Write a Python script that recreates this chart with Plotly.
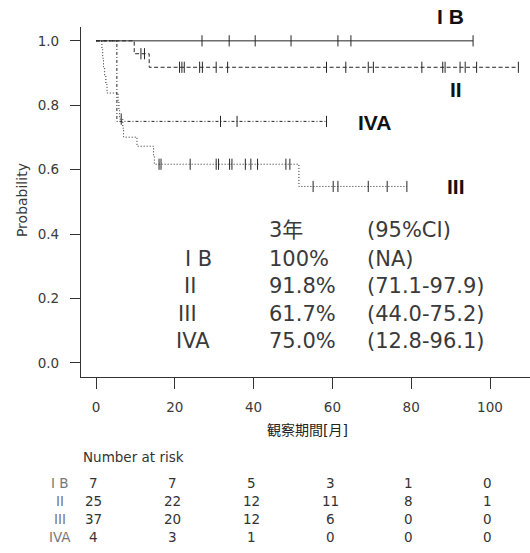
import plotly.graph_objects as go

# ---- Kaplan-Meier data by stage (months, survival probability) ----
ib_event_t = []
ib_event_s = []
ib_censor = [26.9, 33.8, 40.4, 49.5, 61.4, 64.7, 95.7]

ii_event_t = [9.7, 13.5]
ii_event_s = [0.960, 0.918]
ii_censor = [11.4, 12.3, 21.2, 21.8, 22.4, 26.3, 27.0, 30.5, 33.4,
             58.5, 63.4, 69.1, 70.4, 82.7, 88.0, 88.6, 92.4, 93.7, 96.6, 107.2]

iii_event_t = [1.5, 1.7, 1.9, 2.2, 2.5, 2.8, 5.6, 5.8, 6.0, 6.8, 7.0,
               10.4, 14.6, 14.8, 51.5]
iii_event_s = [0.973, 0.946, 0.919, 0.892, 0.865, 0.838, 0.811, 0.784, 0.757,
               0.729, 0.701, 0.673, 0.645, 0.617, 0.548]
iii_censor = [6.4, 16.0, 16.5, 23.9, 30.5, 31.1, 33.9, 34.5, 37.9, 39.3, 41.0,
              48.2, 49.2, 55.1, 60.2, 61.4, 69.1, 73.9, 78.9]

iva_event_t = [5.3]
iva_event_s = [0.750]
iva_censor = [31.6, 35.8, 58.5]

# ---- 3-year survival summary ----
table_names = ["I B", "II", "III", "IVA"]
surv_3y = ["100%", "91.8%", "61.7%", "75.0%"]
ci_3y = ["(NA)", "(71.1-97.9)", "(44.0-75.2)", "(12.8-96.1)"]

# ---- number at risk ----
risk_times = [0, 20, 40, 60, 80, 100]
risk_ib = [7, 7, 5, 3, 1, 0]
risk_ii = [25, 22, 12, 11, 8, 1]
risk_iii = [37, 20, 12, 6, 0, 0]
risk_iva = [4, 3, 1, 0, 0, 0]
risk_labels = ["I B", "II", "III", "IVA"]

x_ticks = [0, 20, 40, 60, 80, 100]
y_ticks = [0.0, 0.2, 0.4, 0.6, 0.8, 1.0]

INK = "#262626"
TXT = "#3a3a3a"


def km_curve(ev_t, ev_s, cens):
    end = max(list(ev_t) + list(cens))
    xs = [0.0] + list(ev_t) + [end]
    ys = [1.0] + list(ev_s) + [ev_s[-1] if ev_s else 1.0]
    return xs, ys


def level_at(t, ev_t, ev_s):
    s = 1.0
    for et, es in zip(ev_t, ev_s):
        if et <= t:
            s = es
    return s


groups = [
    (ib_event_t, ib_event_s, ib_censor, "solid"),
    (ii_event_t, ii_event_s, ii_censor, "4px,2.5px"),
    (iii_event_t, iii_event_s, iii_censor, "1px,2px"),
    (iva_event_t, iva_event_s, iva_censor, "3px,2px,1px,2px"),
]

fig = go.Figure()
for ev_t, ev_s, cens, dash in groups:
    xs, ys = km_curve(ev_t, ev_s, cens)
    fig.add_trace(go.Scatter(x=xs, y=ys, mode="lines", line_shape="hv",
                             line=dict(color=INK, width=1, dash=dash),
                             hoverinfo="skip", showlegend=False))
    fig.add_trace(go.Scatter(x=cens, y=[level_at(c, ev_t, ev_s) for c in cens],
                             mode="markers",
                             marker=dict(symbol="line-ns-open", size=8, color=INK,
                                         line=dict(color=INK, width=1)),
                             hoverinfo="skip", showlegend=False))

ann = []
# curve labels
bold = dict(family="Liberation Sans, Arial", size=21, color="#111")
ann.append(dict(text="<b>I B</b>", x=0.824, y=1.031, xref="paper", yref="paper",
                showarrow=False, font=bold, xanchor="center", yanchor="middle"))
for txt, x, y in [("II", 91.4, 0.848), ("IVA", 70.8, 0.748), ("III", 91.4, 0.547)]:
    ann.append(dict(text=f"<b>{txt}</b>", x=x, y=y, xref="x", yref="y",
                    showarrow=False, font=bold, xanchor="center", yanchor="middle"))

# 3-year summary table inside the plot
tf = dict(family="DejaVu Sans, Noto Sans CJK JP", size=21, color=TXT)
row_y = [0.323, 0.239, 0.152, 0.068]
label_x = [22.2, 21.7, 20.2, 19.7]
ann.append(dict(text="3年", x=43.4, y=0.413, xref="x", yref="y",
                showarrow=False, font=tf, xanchor="left", yanchor="middle"))
ann.append(dict(text="(95%CI)", x=68.3, y=0.413, xref="x", yref="y",
                showarrow=False, font=tf, xanchor="left", yanchor="middle"))
for name, s, ci, yy, lx in zip(table_names, surv_3y, ci_3y, row_y, label_x):
    ann.append(dict(text=name, x=lx, y=yy, xref="x", yref="y", showarrow=False,
                    font=tf, xanchor="left", yanchor="middle"))
    ann.append(dict(text=s, x=43.4, y=yy, xref="x", yref="y", showarrow=False,
                    font=tf, xanchor="left", yanchor="middle"))
    ann.append(dict(text=ci, x=68.3, y=yy, xref="x", yref="y", showarrow=False,
                    font=tf, xanchor="left", yanchor="middle"))

# axis titles
ann.append(dict(text="Probability", x=-0.131, y=0.506, xref="paper", yref="paper",
                textangle=-90, showarrow=False, xanchor="center", yanchor="middle",
                font=dict(family="DejaVu Sans", size=14, color=TXT)))
ann.append(dict(text="観察期間[月]", x=53.6, y=-0.151, xref="x", yref="paper",
                showarrow=False, xanchor="center", yanchor="middle",
                font=dict(family="DejaVu Sans, Noto Sans CJK JP", size=14, color="#222")))

# number at risk table
small = dict(family="DejaVu Sans", size=13.5, color="#333")
ann.append(dict(text="Number at risk", x=-3.8, y=-0.229, xref="x", yref="paper",
                showarrow=False, xanchor="left", yanchor="middle", font=small))
risk_rows = [risk_ib, risk_ii, risk_iii, risk_iva]
risk_y = [-0.303, -0.354, -0.406, -0.457]
for lab, row, yy in zip(risk_labels, risk_rows, risk_y):
    ann.append(dict(text=lab, x=-0.047, y=yy, xref="paper", yref="paper",
                    showarrow=False, xanchor="center", yanchor="middle",
                    font=dict(family="DejaVu Sans", size=13.5, color="#777")))
    for t, n in zip(risk_times, row):
        ann.append(dict(text=str(n), x=t - 0.6, y=yy, xref="x", yref="paper",
                        showarrow=False, xanchor="center", yanchor="middle", font=small))

fig.update_layout(
    width=530, height=553,
    margin=dict(l=81, r=0, t=27, b=176),
    plot_bgcolor="white", paper_bgcolor="white",
    annotations=ann,
    xaxis=dict(range=[-3.81, 110.15], tickvals=x_ticks, showgrid=False, zeroline=False,
               showline=True, linecolor="#333", linewidth=1.3,
               ticks="outside", ticklen=11, tickwidth=1, tickcolor="#333",
               ticklabelstandoff=7,
               tickfont=dict(family="DejaVu Sans", size=13.5, color=TXT)),
    yaxis=dict(range=[-0.0435, 1.043], tickvals=y_ticks, tickformat=".1f",
               showgrid=False, zeroline=False,
               showline=True, linecolor="#333", linewidth=1.3,
               ticks="outside", ticklen=10, tickwidth=1, tickcolor="#333",
               ticklabelstandoff=8,
               tickfont=dict(family="DejaVu Sans", size=13.5, color=TXT)),
)

fig.write_html("out.html")
